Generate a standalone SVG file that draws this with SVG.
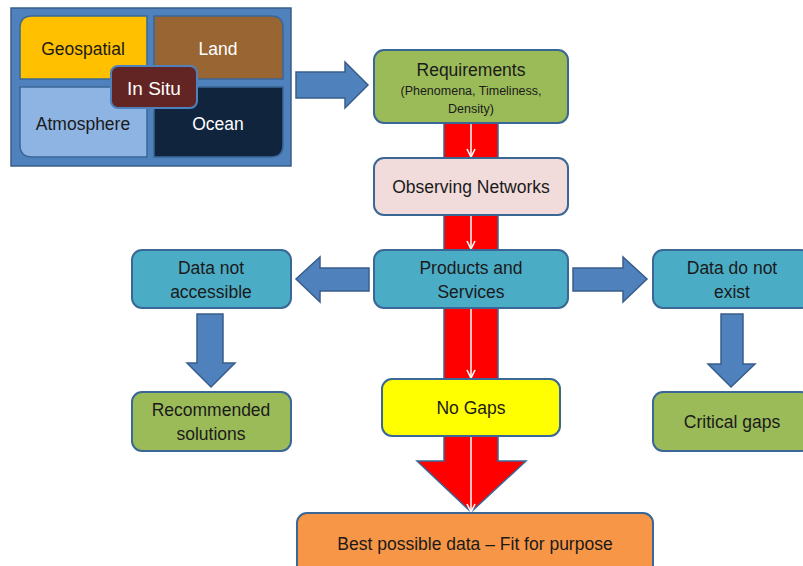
<svg xmlns="http://www.w3.org/2000/svg" width="803" height="566" viewBox="0 0 803 566">
<defs>
<style>
text{font-family:"Liberation Sans",Arial,sans-serif;text-anchor:middle;fill:#1a1a1a}
.box{stroke:#3a6796;stroke-width:2}
.blue{fill:#4F81BD;stroke:#385D8A;stroke-width:1.5}
.wl{stroke:#ffffff;stroke-width:1.5;fill:none;marker-end:url(#wh)}
.t16{font-size:17.5px}
</style>
<marker id="wh" viewBox="0 0 10 10" refX="9" refY="5" markerWidth="10" markerHeight="10" markerUnits="userSpaceOnUse" orient="auto">
<path d="M1,1 L9,5 L1,9" fill="none" stroke="#ffffff" stroke-width="1.6"/>
</marker>
</defs>
<rect width="803" height="566" fill="#ffffff"/>

<g id="connectors">
<polygon points="444,123 498,123 498,461 526,461 471,512 417,461 444,461" fill="#FF0000" stroke="#3a6796" stroke-width="1.5"/>
<line class="wl" x1="471" y1="123" x2="471" y2="157"/>
<line class="wl" x1="471" y1="215" x2="471" y2="249"/>
<line class="wl" x1="471" y1="308" x2="471" y2="378"/>
<line class="wl" x1="471" y1="436" x2="471" y2="512"/>
<polygon class="blue" points="296,72 345,72 345,62 368,85 345,108 345,98 296,98"/>
<polygon class="blue" points="369,268 320,268 320,257 296,279 320,302 320,291 369,291"/>
<polygon class="blue" points="573,268 623,268 623,257 647,279 623,302 623,291 573,291"/>
<polygon class="blue" points="197,314 223,314 223,363 235,363 211,387 187,363 197,363"/>
<polygon class="blue" points="721,314 743,314 743,364 755,364 731,387 708,364 721,364"/>
</g>

<g id="insitu-group">
<rect x="11" y="8" width="280" height="158" fill="#4F81BD" stroke="#385D8A" stroke-width="1.5"/>
<g id="geospatial">
<path d="M20,28 Q20,16 32,16 L147,16 L147,79 L20,79 Z" fill="#FFC000" stroke="#3a6796" stroke-width="1.5"/>
<text class="t16" x="83" y="55">Geospatial</text>
</g>
<g id="land">
<path d="M154,16 L271,16 Q283,16 283,28 L283,79 L154,79 Z" fill="#996633" stroke="#3a6796" stroke-width="1.5"/>
<text class="t16" x="218" y="55" style="fill:#ffffff">Land</text>
</g>
<g id="atmosphere">
<path d="M20,87 L147,87 L147,157 L32,157 Q20,157 20,145 Z" fill="#8EB4E3" stroke="#3a6796" stroke-width="1.5"/>
<text class="t16" x="83" y="130">Atmosphere</text>
</g>
<g id="ocean">
<path d="M154,87 L283,87 L283,145 Q283,157 271,157 L154,157 Z" fill="#10243E" stroke="#3a6796" stroke-width="1.5"/>
<text class="t16" x="218" y="130" style="fill:#ffffff">Ocean</text>
</g>
<g id="insitu">
<rect x="111" y="66" width="86" height="42" rx="7" fill="#632523" stroke="#4F81BD" stroke-width="2"/>
<text x="154" y="94.5" style="fill:#ffffff;font-size:19px">In Situ</text>
</g>
</g>

<g id="requirements">
<rect class="box" x="374" y="50" width="194" height="73" rx="10" fill="#9BBB59"/>
<text class="t16" x="471" y="76">Requirements</text>
<text x="471" y="95" style="font-size:12.5px">(Phenomena, Timeliness,</text>
<text x="471" y="113" style="font-size:12.5px">Density)</text>
</g>

<g id="observing">
<rect class="box" x="374" y="158" width="194" height="57" rx="10" fill="#F2DCDB"/>
<text class="t16" x="471" y="193">Observing Networks</text>
</g>

<g id="products">
<rect class="box" x="374" y="250" width="194" height="58" rx="10" fill="#4BACC6"/>
<text class="t16" x="471" y="274">Products and</text>
<text class="t16" x="471" y="298">Services</text>
</g>

<g id="notaccessible">
<rect class="box" x="132" y="250" width="159" height="58" rx="10" fill="#4BACC6"/>
<text class="t16" x="211" y="274">Data not</text>
<text class="t16" x="211" y="298">accessible</text>
</g>

<g id="notexist">
<rect class="box" x="653" y="250" width="158" height="58" rx="10" fill="#4BACC6"/>
<text class="t16" x="732" y="274">Data do not</text>
<text class="t16" x="732" y="298">exist</text>
</g>

<g id="recommended">
<rect class="box" x="132" y="392" width="159" height="59" rx="10" fill="#9BBB59"/>
<text class="t16" x="211" y="416">Recommended</text>
<text class="t16" x="211" y="440">solutions</text>
</g>

<g id="critical">
<rect class="box" x="653" y="392" width="158" height="59" rx="10" fill="#9BBB59"/>
<text class="t16" x="732" y="428">Critical gaps</text>
</g>

<g id="nogaps">
<rect class="box" x="382" y="379" width="178" height="57" rx="10" fill="#FFFF00"/>
<text class="t16" x="471" y="414">No Gaps</text>
</g>

<g id="best">
<rect class="box" x="297" y="513" width="356" height="70" rx="10" fill="#F79646"/>
<text class="t16" x="475" y="550">Best possible data – Fit for purpose</text>
</g>
</svg>
